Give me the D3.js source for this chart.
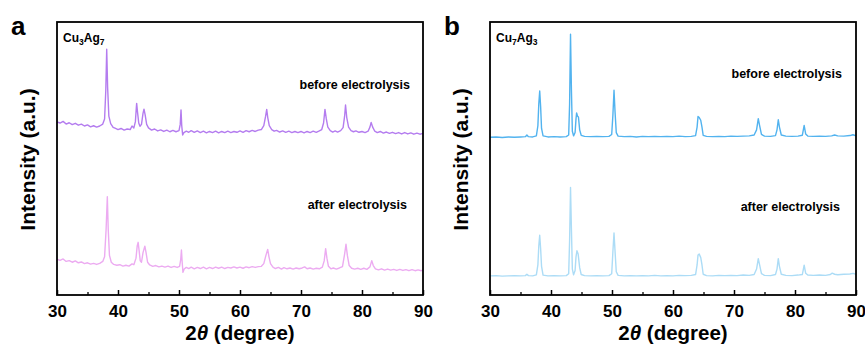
<!DOCTYPE html>
<html>
<head>
<meta charset="utf-8">
<script src="https://cdn.jsdelivr.net/npm/d3@7"></script>
<style>
  body { margin: 0; background: #fff; }
  svg text { font-family: Arial, "Liberation Sans", sans-serif; font-weight: bold; }
</style>
</head>
<body>
<svg id="chart" width="865" height="346"></svg>
<script>
// XRD patterns, [2theta, intensity (a.u., 0-100 stacked scale)]
const cu3ag7Before = [
  [30,63.4],[30.5,63.0],[31,63.6],[31.5,62.6],[32,63.1],[32.5,62.4],[33,62.9],[33.5,62.2],[34,62.6],[34.5,61.9],
  [35,62.3],[35.5,61.6],[36,62.0],[36.5,61.5],[37,61.9],[37.5,62.6],[37.8,64.5],[38.0,75],[38.15,90.0],[38.3,76],
  [38.5,65.5],[38.8,62.8],[39.2,61.4],[39.6,61.0],[40,60.6],[40.5,61.0],[41,60.4],[41.5,60.8],[42,60.6],[42.3,61.9],
  [42.6,61.2],[42.85,63.5],[43.0,68.5],[43.06,70.2],[43.2,67],[43.4,63],[43.6,61.8],[43.85,62.5],[44.1,66.5],[44.26,68.1],
  [44.45,66],[44.7,62.5],[45.0,61.2],[45.5,60.4],[46,60.8],[46.5,60.1],[47,60.5],[47.5,59.9],[48,60.4],[48.5,59.8],
  [49,60.3],[49.5,59.8],[50.0,60.2],[50.2,62.5],[50.33,67.8],[50.45,62],[50.6,58.6],[50.8,59.5],[51.2,60.0],[51.6,59.6],
  [52,60.2],[52.5,59.6],[53,60.1],[53.5,59.5],[54,60.0],[54.5,59.4],[55,59.9],[55.5,59.5],[56,60.0],[56.5,59.4],
  [57,59.9],[57.5,59.5],[58,60.0],[58.5,59.5],[59,59.9],[59.5,59.6],[60,60.1],[60.5,59.6],[61,60.2],[61.5,59.8],
  [62,60.3],[62.5,59.9],[63,60.4],[63.5,60.6],[63.9,62.0],[64.2,65.5],[64.38,68.0],[64.55,65.0],[64.8,62.0],[65.2,60.6],
  [65.6,60.0],[66,60.3],[66.5,59.7],[67,60.1],[67.5,59.6],[68,60.0],[68.5,59.5],[69,59.9],[69.5,59.5],[70,59.9],
  [70.5,59.4],[71,59.9],[71.5,59.5],[72,60.0],[72.5,59.6],[73,60.1],[73.4,60.6],[73.7,63.0],[73.93,68.0],[74.15,64.5],
  [74.4,61.5],[74.8,60.2],[75.2,59.7],[75.6,60.1],[76,59.7],[76.5,60.2],[76.9,61.3],[77.15,65.5],[77.3,69.6],[77.5,65],
  [77.8,61.5],[78.2,60.2],[78.6,59.8],[79,60.1],[79.5,59.6],[80,59.9],[80.5,59.5],[81,60.0],[81.3,61.5],[81.5,63.2],
  [81.75,61.5],[82.1,60.0],[82.5,59.5],[83,59.9],[83.5,59.3],[84,59.7],[84.5,59.2],[85,59.6],[85.5,59.1],[86,59.5],
  [86.5,59.0],[87,59.5],[87.5,59.0],[88,59.4],[88.5,58.9],[89,59.3],[89.5,58.9],[90,59.2]
];
const cu3ag7After = [
  [30,13.1],[30.5,12.7],[31,13.2],[31.5,12.3],[32,12.6],[32.5,12.0],[33,12.5],[33.5,11.8],[34,12.1],[34.5,11.5],
  [35,11.8],[35.5,11.3],[36,11.6],[36.5,11.2],[37,11.6],[37.5,12.3],[37.8,14],[38.05,24],[38.25,36.0],[38.4,24],
  [38.6,14.5],[38.9,12],[39.3,11.2],[39.8,10.9],[40.3,11.1],[40.8,10.6],[41.3,10.9],[41.8,10.6],[42.3,11.4],[42.6,11.1],
  [42.95,13.5],[43.15,18],[43.3,19.3],[43.45,16.5],[43.65,12.5],[43.85,12.0],[44.1,15.5],[44.4,17.9],[44.6,15.5],[44.85,12],
  [45.2,11.0],[45.7,10.5],[46.2,10.8],[46.7,10.3],[47.2,10.6],[47.7,10.2],[48.2,10.6],[48.7,10.1],[49.2,10.5],[49.7,10.1],
  [50.1,10.5],[50.28,13],[50.4,16.5],[50.52,12],[50.65,8.3],[50.85,9.5],[51.2,10.1],[51.6,9.7],[52,10.2],[52.5,9.6],
  [53,10.1],[53.5,9.7],[54,10.2],[54.5,9.6],[55,10.1],[55.5,9.7],[56,10.2],[56.5,9.8],[57,10.2],[57.5,9.7],
  [58,10.1],[58.5,9.9],[59,10.3],[59.5,9.9],[60,10.2],[60.5,9.8],[61,10.3],[61.5,10.0],[62,10.4],[62.5,10.1],
  [63,10.4],[63.5,10.5],[63.9,11.5],[64.25,14.5],[64.54,16.7],[64.75,14],[65.0,11.5],[65.4,10.2],[65.8,9.7],[66.3,10.1],
  [66.8,9.5],[67.2,10.0],[67.7,9.6],[68.2,9.9],[68.7,9.5],[69.2,9.9],[69.7,9.6],[70.2,9.9],[70.6,10.3],[71,9.6],
  [71.5,9.9],[72,9.5],[72.5,9.8],[73,9.6],[73.5,10.2],[73.8,12.5],[74.04,17.0],[74.25,13.5],[74.5,10.5],[74.9,9.6],
  [75.3,9.9],[75.8,9.5],[76.3,9.9],[76.8,10.4],[77.15,15],[77.38,18.6],[77.6,14.5],[77.9,10.8],[78.3,9.8],[78.8,9.5],
  [79.3,9.8],[79.8,9.4],[80.3,9.8],[80.8,9.4],[81.3,10.3],[81.6,12.6],[81.85,10.8],[82.2,9.6],[82.7,9.2],[83.2,9.6],
  [83.7,9.1],[84.2,9.5],[84.7,9.1],[85.2,9.4],[85.7,9.0],[86.2,9.4],[86.7,9.0],[87.2,9.3],[87.7,8.9],[88.2,9.3],
  [88.7,8.9],[89.2,9.2],[89.7,8.9],[90,9.1]
];
const cu7ag3Before = [
  [30,57.8],[31,57.9],[32,57.7],[33,57.9],[34,57.8],[35,57.9],[35.8,58.0],[36.05,58.6],[36.3,58.0],[37,57.9],
  [37.6,58.3],[37.85,62],[38.0,70],[38.15,74.7],[38.3,69],[38.45,61],[38.7,58.3],[39.5,57.9],[40.5,58.0],[41.5,57.9],
  [42.5,58.0],[42.9,58.6],[43.05,70],[43.2,95.5],[43.35,75],[43.5,60],[43.7,58.3],[43.95,59.5],[44.1,64.5],[44.2,66.7],
  [44.35,65.5],[44.5,65.2],[44.7,60.5],[44.95,58.5],[45.5,58.1],[46.5,58.0],[47.5,58.1],[48.5,58.0],[49.5,58.1],[49.95,58.8],
  [50.15,66],[50.33,75.0],[50.5,67],[50.7,59.5],[51,58.2],[52,58.0],[53,58.1],[54,57.9],[55,58.1],[56,58.0],
  [57,58.1],[58,58.0],[59,58.1],[60,58.0],[61,58.2],[62,58.0],[63,58.1],[63.7,58.4],[63.95,61.5],[64.1,65.4],
  [64.3,65.0],[64.55,64.0],[64.75,61.5],[64.95,58.5],[65.5,58.1],[66.5,58.0],[67.5,58.1],[68.5,58.0],[69.5,58.2],[70.5,58.1],
  [71.5,58.2],[72.5,58.3],[73.3,58.6],[73.7,60.5],[73.98,64.6],[74.2,62],[74.5,58.8],[75,58.2],[76,58.1],[76.8,58.4],
  [77.05,60.5],[77.26,64.2],[77.45,61.5],[77.75,58.6],[78.5,58.2],[79.5,58.1],[80.5,58.2],[81.2,58.5],[81.5,62.1],[81.75,59],
  [82.1,58.2],[83,58.1],[84,58.2],[85,58.1],[86,58.3],[86.5,58.6],[87,58.3],[88,58.2],[89,58.4],[89.5,58.7],[90,58.3]
];
const cu7ag3After = [
  [30,7.0],[31,7.1],[32,6.9],[33,7.0],[34,7.1],[35,7.0],[35.8,7.1],[36.05,7.6],[36.3,7.1],[37,7.0],
  [37.6,7.4],[37.85,11],[38.0,18],[38.15,21.9],[38.3,17],[38.45,10.5],[38.7,7.3],[39.5,7.0],[40.5,7.1],[41.5,7.0],
  [42.5,7.1],[42.9,7.8],[43.05,20],[43.2,39.4],[43.35,24],[43.5,9.5],[43.7,7.4],[43.95,9],[44.1,14],[44.25,16.2],
  [44.45,15],[44.7,10],[44.95,7.5],[45.5,7.1],[46.5,7.0],[47.5,7.1],[48.5,7.0],[49.5,7.1],[49.95,7.8],[50.15,16],
  [50.33,22.7],[50.5,16],[50.7,8.5],[51,7.2],[52,7.0],[53,7.1],[54,7.0],[55,7.1],[56,7.0],[57,7.2],
  [58,7.0],[59,7.1],[60,7.0],[61,7.2],[62,7.1],[63,7.2],[63.7,7.5],[63.95,11],[64.1,14.6],[64.3,15.0],
  [64.55,13.7],[64.75,11],[64.95,7.6],[65.5,7.1],[66.5,7.0],[67.5,7.2],[68.5,7.1],[69.5,7.2],[70.5,7.1],[71.5,7.3],
  [72.5,7.2],[73.3,7.5],[73.7,9.5],[73.98,13.3],[74.2,11],[74.5,7.8],[75,7.2],[76,7.1],[76.8,7.5],[77.05,9.5],
  [77.26,13.3],[77.45,10.5],[77.75,7.6],[78.5,7.2],[79.5,7.1],[80.5,7.3],[81.2,7.5],[81.5,10.9],[81.75,8],[82.1,7.3],
  [83,7.2],[84,7.3],[85,7.2],[85.8,7.5],[86.1,8.0],[86.5,7.6],[87,7.4],[88,7.6],[89,7.7],[89.5,7.9],[90,7.6]
];

const xTicks = [30, 40, 50, 60, 70, 80, 90];
const xMinorTicks = [35, 45, 55, 65, 75, 85];

const panels = [
  { label: "a", left: 57, alloy: ["Cu", "3", "Ag", "7"],
    series: [cu3ag7Before, cu3ag7After], colors: ["#b47cef", "#ecabf1"],
    notes: [{ text: "before electrolysis", x: 410, y: 89 }, { text: "after electrolysis", x: 407, y: 209 }] },
  { label: "b", left: 490, alloy: ["Cu", "7", "Ag", "3"],
    series: [cu7ag3Before, cu7ag3After], colors: ["#52b3ef", "#acdcf6"],
    notes: [{ text: "before electrolysis", x: 842, y: 78 }, { text: "after electrolysis", x: 840, y: 211 }] }
];

const pw = 366, plotTop = 22, plotBottom = 295;
const svg = d3.select("#chart");

panels.forEach((p, i) => {
  const g = svg.append("g").attr("transform", `translate(${p.left},0)`);
  const x = d3.scaleLinear().domain([30, 90]).range([0, pw]);
  const y = d3.scaleLinear().domain([0, 100]).range([plotBottom, plotTop]);

  g.append("clipPath").attr("id", "clip" + i)
    .append("rect").attr("x", 0).attr("y", plotTop).attr("width", pw).attr("height", plotBottom - plotTop);

  const line = d3.line().x(d => x(d[0])).y(d => y(d[1]));
  p.series.forEach((s, k) => {
    g.append("path")
      .datum(s)
      .attr("clip-path", `url(#clip${i})`)
      .attr("d", line)
      .attr("fill", "none")
      .attr("stroke", p.colors[k])
      .attr("stroke-width", 1.4)
      .attr("stroke-linejoin", "round");
  });

  // bottom axis, ticks pointing inward
  const ax = g.append("g").attr("transform", `translate(0,${plotBottom})`)
    .call(d3.axisBottom(x).tickValues(xTicks).tickSizeInner(-5).tickSizeOuter(0).tickPadding(10));
  ax.select(".domain").remove();
  ax.selectAll(".tick line").attr("stroke", "#000").attr("stroke-width", 1.5);
  ax.selectAll(".tick text").attr("font-size", 17).attr("fill", "#000").attr("dy", "0.7em");
  g.append("g").attr("transform", `translate(0,${plotBottom})`)
    .call(d3.axisBottom(x).tickValues(xMinorTicks).tickSizeInner(-3).tickSizeOuter(0).tickFormat(""))
    .call(a => a.select(".domain").remove())
    .selectAll(".tick line").attr("stroke", "#000").attr("stroke-width", 1.3);

  // frame
  g.append("rect").attr("x", 0).attr("y", plotTop).attr("width", pw).attr("height", plotBottom - plotTop)
    .attr("fill", "none").attr("stroke", "#000").attr("stroke-width", 1.8);

  // axis titles
  const xt = g.append("text").attr("x", pw / 2).attr("y", 340).attr("text-anchor", "middle")
    .attr("font-size", 20.5);
  xt.append("tspan").text("2");
  xt.append("tspan").attr("font-style", "italic").text("θ");
  xt.append("tspan").text(" (degree)");

  g.append("text")
    .attr("transform", `translate(${-22},${(plotTop + plotBottom) / 2 + 1}) rotate(-90)`)
    .attr("text-anchor", "middle").attr("font-size", 21).text("Intensity (a.u.)");

  // panel letter
  g.append("text").attr("x", -46).attr("y", 35).attr("font-size", 26).text(p.label);

  // alloy composition with subscripts
  const c = g.append("text").attr("x", 6).attr("y", 42).attr("font-size", 12);
  c.append("tspan").text(p.alloy[0]);
  c.append("tspan").attr("font-size", 8.5).attr("dy", 3).text(p.alloy[1]);
  c.append("tspan").attr("dy", -3).text(p.alloy[2]);
  c.append("tspan").attr("font-size", 8.5).attr("dy", 3).text(p.alloy[3]);

  p.notes.forEach(n => {
    g.append("text").attr("x", n.x - p.left).attr("y", n.y).attr("text-anchor", "end")
      .attr("font-size", 12.5).text(n.text);
  });
});
</script>
</body>
</html>
